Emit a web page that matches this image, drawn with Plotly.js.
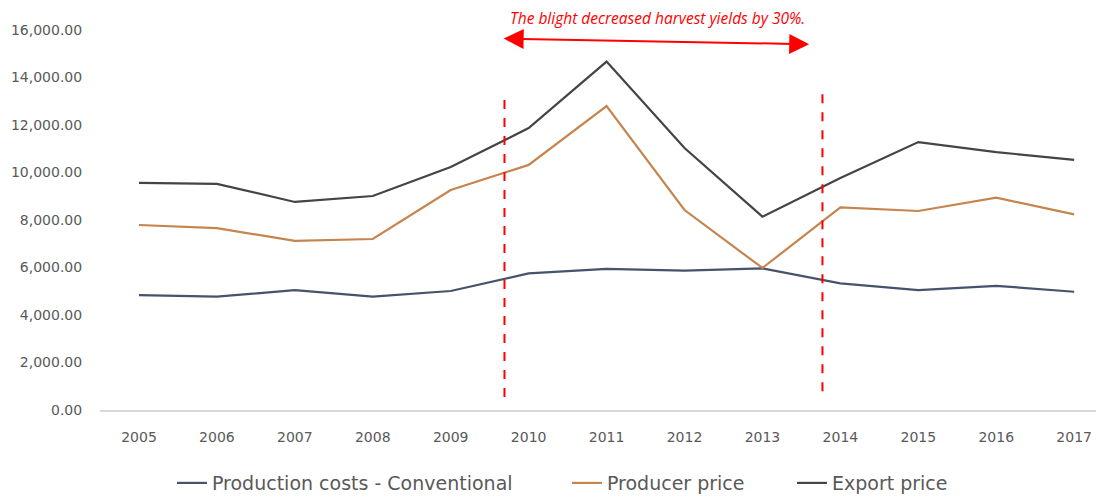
<!DOCTYPE html>
<html>
<head>
<meta charset="utf-8">
<script src="https://cdn.plot.ly/plotly-3.0.1.min.js"></script>
<style>html,body{margin:0;padding:0;background:#fff;}#chart{width:1096px;height:498px;}</style>
</head>
<body>
<div id="chart"></div>
<script>
const years = ['2005','2006','2007','2008','2009','2010','2011','2012','2013','2014','2015','2016','2017'];
const productionCosts = [4840, 4770, 5050, 4770, 5010, 5750, 5940, 5870, 5960, 5330, 5050, 5230, 4980];
const producerPrice = [7790, 7660, 7120, 7200, 9260, 10320, 12800, 8420, 5980, 8530, 8380, 8940, 8240];
const exportPrice = [9560, 9520, 8760, 9010, 10230, 11870, 14670, 11030, 8140, 9770, 11280, 10860, 10530];
const seriesNames = ['Production costs - Conventional', 'Producer price', 'Export price'];
const yTicks = [0, 2000, 4000, 6000, 8000, 10000, 12000, 14000, 16000];
const noteText = 'The blight decreased harvest yields by 30%.';

const traces = [
  {x: years, y: productionCosts, name: seriesNames[0], type: 'scatter', mode: 'lines',
   line: {color: '#46536a', width: 2.2}, legend: 'legend'},
  {x: years, y: producerPrice, name: seriesNames[1], type: 'scatter', mode: 'lines',
   line: {color: '#c6844e', width: 2.2}, legend: 'legend2'},
  {x: years, y: exportPrice, name: seriesNames[2], type: 'scatter', mode: 'lines',
   line: {color: '#444444', width: 2.2}, legend: 'legend3'}
];

const legFont = {size: 19, color: '#595959', family: 'DejaVu Sans, sans-serif'};
function leg(x) {
  return {orientation: 'h', xref: 'container', yref: 'container', x: x, xanchor: 'left',
          y: 0.03, yanchor: 'middle', font: legFont, bgcolor: 'rgba(0,0,0,0)'};
}

const layout = {
  width: 1096, height: 498,
  margin: {l: 100, r: 0, t: 30, b: 88},
  paper_bgcolor: '#ffffff', plot_bgcolor: '#ffffff',
  font: {family: 'DejaVu Sans, sans-serif', color: '#595959'},
  showlegend: true,
  legend: leg(0.1569),
  legend2: leg(0.5173),
  legend3: leg(0.7226),
  xaxis: {type: 'category', range: [-0.5, 12.28], showgrid: false, zeroline: false,
          showline: true, linecolor: '#d9d9d9', linewidth: 2,
          ticks: 'outside', ticklen: 13, tickcolor: 'rgba(0,0,0,0)',
          tickfont: {size: 14, color: '#595959'}},
  yaxis: {range: [0, 16000], tickvals: yTicks, tickformat: ',.2f', showgrid: false,
          zeroline: false, showline: false,
          ticks: 'outside', ticklen: 14, tickcolor: 'rgba(0,0,0,0)',
          tickfont: {size: 14, color: '#595959'}},
  shapes: [
    {type: 'line', xref: 'x', yref: 'y', x0: 4.69, x1: 4.69, y0: 13050, y1: 210,
     line: {color: '#ff0000', width: 2, dash: 'dash'}},
    {type: 'line', xref: 'x', yref: 'y', x0: 8.77, x1: 8.77, y0: 13300, y1: 550,
     line: {color: '#ff0000', width: 2, dash: 'dash'}}
  ],
  annotations: [
    {xref: 'paper', yref: 'paper', x: 0.56, y: 1.0316, text: noteText, showarrow: false,
     xanchor: 'center', yanchor: 'middle',
     font: {size: 15.5, color: '#ff0000', family: 'Open Sans, sans-serif', style: 'italic'}},
    {xref: 'x', yref: 'y', axref: 'x', ayref: 'y', x: 8.60, y: 15400, ax: 4.66, ay: 15640,
     text: '', showarrow: true, arrowhead: 2, startarrowhead: 2, arrowside: 'end+start',
     arrowsize: 2, startarrowsize: 2, arrowwidth: 2, arrowcolor: '#ff0000', standoff: 0, startstandoff: 0}
  ]
};

Plotly.newPlot('chart', traces, layout, {displayModeBar: false, staticPlot: true});
</script>
</body>
</html>
